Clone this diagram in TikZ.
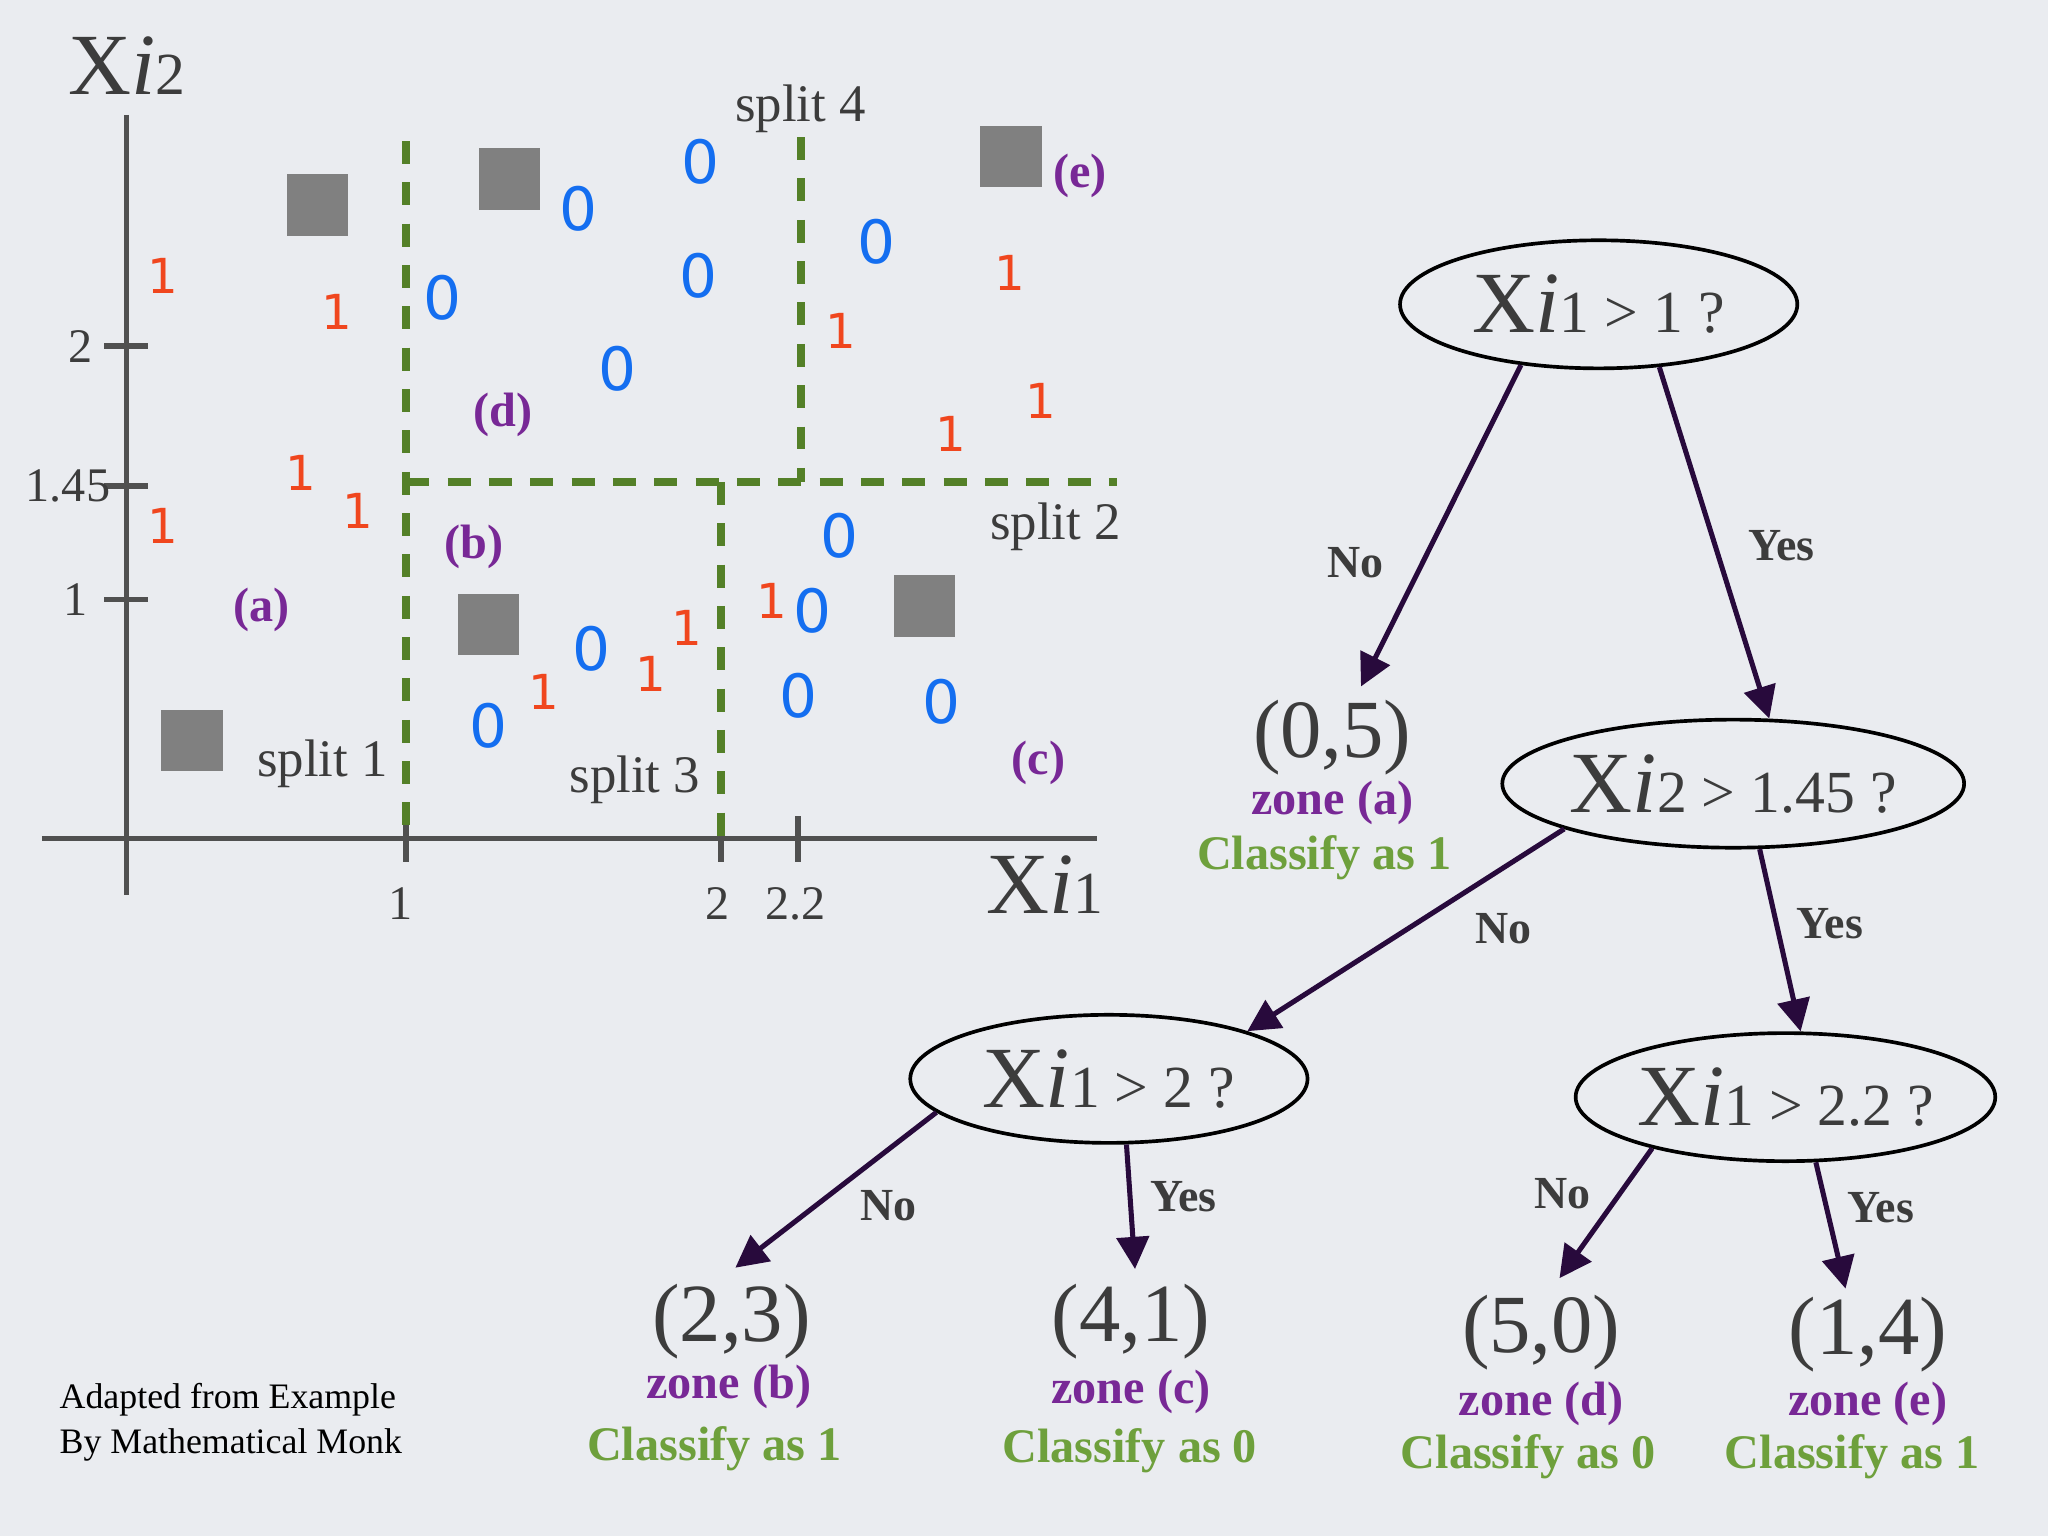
\documentclass[tikz,border=0pt]{standalone}
\usepackage{fontspec}
\setmainfont{Liberation Serif}
\newfontfamily\dv{DejaVu Sans}
\usetikzlibrary{shapes.geometric,arrows.meta,calc}
\definecolor{bg}{RGB}{234,236,240}
\definecolor{ax}{RGB}{80,80,80}
\definecolor{spl}{RGB}{84,128,40}
\definecolor{sq}{RGB}{128,128,128}
\definecolor{zp}{RGB}{120,40,150}
\definecolor{rd}{RGB}{240,70,30}
\definecolor{bl}{RGB}{20,110,240}
\definecolor{cg}{RGB}{110,160,60}
\definecolor{ar}{RGB}{40,10,60}
\definecolor{tx}{RGB}{60,60,60}
\tikzset{
 axl/.style={draw=ax,line width=1.2pt},
 splitl/.style={draw=spl,line width=1.7pt,dash pattern=on 5pt off 4pt},
 tl/.style={text=tx,font=\fontsize{10.5}{10.5}\selectfont,inner sep=0},
 sl/.style={text=tx,font=\fontsize{11.5}{11.5}\selectfont,inner sep=0},
 sqr/.style={fill=sq,minimum size=0.47cm,inner sep=0},
 zl/.style={text=zp,font=\bfseries\fontsize{10.5}{10.5}\selectfont,inner sep=0},
 one/.style={text=rd,font=\dv\fontsize{10.5}{10.5}\selectfont,inner sep=0},
 zero/.style={text=bl,font=\dv\fontsize{13}{13}\selectfont,inner sep=0},
 ell/.style={ellipse,draw=black,line width=0.8pt,minimum width=3.04cm,minimum height=0.98cm,inner sep=0,text=tx},
 arr/.style={draw=ar,line width=1.1pt,-{Triangle[length=7pt,width=7pt]}},
 yn/.style={text=tx,font=\bfseries\fontsize{10}{10}\selectfont,inner sep=0},
 lf/.style={text=tx,font=\fontsize{18}{18}\selectfont,inner sep=0},
 zn/.style={text=zp,font=\bfseries\fontsize{10.5}{10.5}\selectfont,inner sep=0},
 cl/.style={text=cg,font=\bfseries\fontsize{10.5}{10.5}\selectfont,inner sep=0},
}
\begin{document}
\begin{tikzpicture}[x=0.01cm,y=-0.01cm]
\fill[bg] (0,0) rectangle (1568,1176);
\useasboundingbox (0,0) rectangle (1568,1176);
% axes
\draw[axl] (97,88) -- (97,685);
\draw[axl] (32,642) -- (840,642);
\foreach \y in {265,372,459} \draw[axl] (80,\y) -- (113,\y);
\foreach \x in {311,552,611} \draw[axl] (\x,625) -- (\x,660);
\node[tl] (t2) at (62,265) {2};
\node[tl] (t145) at (52,372) {1.45};
\node[tl] (t1) at (58,459) {1};
\node[tl] (u1) at (307,692) {1};
\node[tl] (u2) at (549,692) {2};
\node[tl] (u22) at (609,692) {2.2};
\node[text=tx,inner sep=0] (xa) at (800,677) {{\fontsize{19}{19}\selectfont X\textit{i}}{\fontsize{13}{13}\selectfont 1}};
\node[text=tx,inner sep=0] (ya) at (97,50) {{\fontsize{19}{19}\selectfont X\textit{i}}{\fontsize{13}{13}\selectfont 2}};
% splits
\draw[splitl] (311,108) -- (311,642);
\draw[splitl] (311,369) -- (855,369);
\draw[splitl] (552,369) -- (552,642);
\draw[splitl] (613,105) -- (613,369);
\node[sl] (s4) at (613,83) {split 4};
\node[sl] (s2) at (808,403) {split 2};
\node[sl] (s1) at (247,585) {split 1};
\node[sl] (s3) at (486,597) {split 3};
% squares
\foreach \p/\n in {{(243,157)}/q1,{(390,137)}/q2,{(774,120)}/q3,{(374,478)}/q4,{(708,464)}/q5,{(147,567)}/q6}
  \node[sqr] (\n) at \p {};
\node[zl] (ze) at (827,135) {(e)};
\node[zl] (zd) at (385,318) {(d)};
\node[zl] (zb) at (363,419) {(b)};
\node[zl] (za) at (200,467) {(a)};
\node[zl] (zc) at (795,584) {(c)};
\foreach \p [count=\i] in {{(125,211)},{(258,239)},{(230,362)},{(274,391)},{(125,403)},{(773,209)},{(644,253)},{(797,307)},{(728,332)},{(416,530)},{(498,516)},{(526,481)},{(591,460)}}
  \node[one] (o\i) at \p {1};
\foreach \p [count=\i] in {{(536,124)},{(443,160)},{(339,228)},{(535,211)},{(473,282)},{(671,185)},{(643,410)},{(622,468)},{(453,497)},{(611,533)},{(721,537)},{(374,556)}}
  \node[zero] (z\i) at \p {0};
% tree
\node[ell] (e1) at (1224,233) {{\fontsize{19}{19}\selectfont X\textit{i}}{\fontsize{13}{13}\selectfont 1 > 1 ?}};
\node[ell] (e2) at (1327,600) {{\fontsize{19}{19}\selectfont X\textit{i}}{\fontsize{13}{13}\selectfont 2 > 1.45 ?}};
\node[ell] (e3) at (849,826) {{\fontsize{19}{19}\selectfont X\textit{i}}{\fontsize{13}{13}\selectfont 1 > 2 ?}};
\node[ell] (e4) at (1367,840) {{\fontsize{19}{19}\selectfont X\textit{i}}{\fontsize{13}{13}\selectfont 1 > 2.2 ?}};
% leaves
\node[lf] (l1) at (1020,565) {(0,5)};
\node[zn] (za1) at (1020,615) {zone (a)};
\node[cl] (c1) at (1014,657) {Classify as 1};
\node[lf] (l2) at (560,1012) {(2,3)};
\node[zn] (za2) at (558,1062) {zone (b)};
\node[cl] (c2) at (547,1109) {Classify as 1};
\node[lf] (l3) at (866,1012) {(4,1)};
\node[zn] (za3) at (866,1066) {zone (c)};
\node[cl] (c3) at (865,1111) {Classify as 0};
\node[lf] (l4) at (1180,1020) {(5,0)};
\node[zn] (za4) at (1180,1075) {zone (d)};
\node[cl] (c4) at (1170,1115) {Classify as 0};
\node[lf] (l5) at (1430,1022) {(1,4)};
\node[zn] (za5) at (1430,1075) {zone (e)};
\node[cl] (c5) at (1418,1115) {Classify as 1};
% arrows
\draw[arr] (e1.218) -- ($(l1.north)+(22,-10)$);
\draw[arr] (e1.314) -- (e2.61);
\draw[arr] (e2.195) -- (e3.19);
\draw[arr] (e2.292) -- (e4.77);
\draw[arr] (e3.191) -- ($(l2.north)+(3,-12)$);
\draw[arr] (e3.285) -- ($(l3.north)+(3,-11)$);
\draw[arr] (e4.201) -- ($(l4.north)+(14,-12)$);
\draw[arr] (e4.295) -- ($(l5.north)+(-17,-6)$);
\node[yn] (n1) at (1038,431) {No};
\node[yn] (y1) at (1364,418) {Yes};
\node[yn] (n2) at (1151,711) {No};
\node[yn] (y2) at (1401,707) {Yes};
\node[yn] (n3) at (680,923) {No};
\node[yn] (y3) at (906,916) {Yes};
\node[yn] (n4) at (1196,914) {No};
\node[yn] (y4) at (1440,925) {Yes};
\node[anchor=west,align=left,inner sep=0,font=\fontsize{7.8}{9.8}\selectfont] (cr) at (45,1089) {Adapted from Example\\By Mathematical Monk};
\end{tikzpicture}
\end{document}
